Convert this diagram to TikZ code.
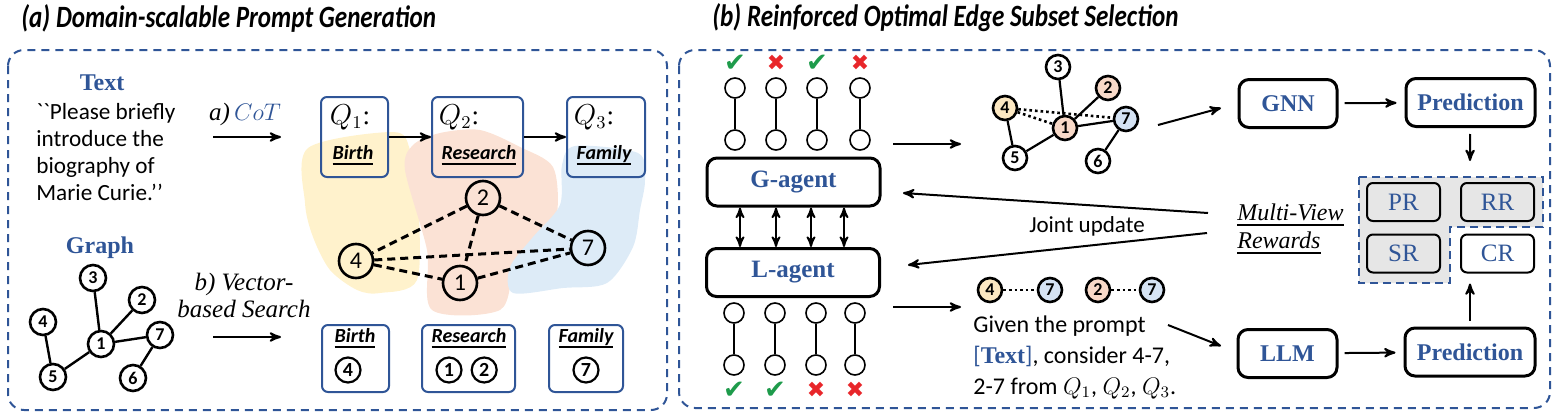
\documentclass[tikz,border=0pt]{standalone}
\usepackage[no-math]{fontspec}
\setmainfont{Liberation Serif}
\newfontfamily\cali{Carlito}
\newfontfamily\dejavu{DejaVu Sans}
\newcommand{\ulw}[1]{\setbox0=\hbox{#1}\rlap{\rule[-2.5pt]{\wd0}{1pt}}\box0}
\usepackage{tikz}
\usetikzlibrary{arrows, positioning}
\definecolor{ublue}{HTML}{2F5597}
\definecolor{okgreen}{HTML}{1E9B4B}
\definecolor{badred}{HTML}{E8262A}
\definecolor{yblob}{HTML}{FFF2CC}
\definecolor{sblob}{HTML}{FBE2D5}
\definecolor{bblob}{HTML}{DDEBF7}
\definecolor{ynode}{HTML}{FCE8C2}
\definecolor{snode}{HTML}{F8D9C8}
\definecolor{bnode}{HTML}{D5E3F4}
\definecolor{rgray}{HTML}{E6E6E6}
\tikzset{
>=stealth', % makes the arrow heads bold
panel/.style={draw=ublue, line width=1pt, dash pattern=on 4pt off 3pt, rounded corners=8pt}, % the two dashed frames
paneltitle/.style={inner sep=0pt, font=\cali\bfseries\itshape\fontsize{15.5}{17}\selectfont},
bluelbl/.style={text=ublue, font=\bfseries\fontsize{12}{14}\selectfont},
bodytxt/.style={inner sep=0pt, align=left, font=\cali\fontsize{11.6}{13.5}\selectfont},
qbox/.style={draw=ublue, line width=1pt, rounded corners=3pt, minimum height=40pt},
qlbl/.style={font=\fontsize{13.5}{14}\selectfont},
topic/.style={inner sep=1pt, font=\cali\bfseries\itshape\fontsize{10}{12}\selectfont},
bignode/.style={circle, draw, line width=1.3pt, inner sep=0pt, minimum size=17pt, font=\cali\fontsize{12}{12}\selectfont},
smallnode/.style={circle, draw, line width=1.3pt, inner sep=0pt, minimum size=13pt, font=\cali\bfseries\fontsize{9}{9}\selectfont},
circdig/.style={circle, draw, line width=1.1pt, inner sep=0pt, minimum size=12.5pt, font=\cali\bfseries\fontsize{10}{10}\selectfont},
endpt/.style={circle, draw, line width=0.8pt, inner sep=0pt, minimum size=10pt},
okmark/.style={text=okgreen, font=\dejavu\fontsize{13}{13}\selectfont},
badmark/.style={text=badred, font=\dejavu\fontsize{11}{11}\selectfont},
agentbox/.style={draw, line width=1.5pt, rounded corners=5pt, minimum width=86.5pt, minimum height=24pt, text=ublue, font=\bfseries\fontsize{12.5}{14}\selectfont},
modbox/.style={draw, line width=1.5pt, rounded corners=5pt, minimum height=24pt, text=ublue, font=\bfseries\fontsize{12}{14}\selectfont},
rbox/.style={draw, line width=1pt, rounded corners=3pt, fill=rgray, minimum width=36.5pt, minimum height=19pt, text=ublue, font=\fontsize{12.5}{14}\selectfont},
arr/.style={->, line width=1pt}, % plain connector arrows
dashline/.style={line width=1.5pt, dash pattern=on 4pt off 2.5pt},
dotline/.style={line width=1.3pt, dash pattern=on 1.3pt off 1.5pt},
}

\begin{document}
\begin{tikzpicture}[x=0.5pt, y=-0.5pt]
  \useasboundingbox (0,0) rectangle (1560,418);

  % frames and titles
  \draw[panel] (8,50) rectangle (667,410);
  \draw[panel] (679,50) rectangle (1550,408);
  \node[paneltitle, anchor=west] (ttla) at (21,18) {\scalebox{0.81}[1]{(a) Domain-scalable Prompt Generation}};
  \node[paneltitle, anchor=west] (ttlb) at (712,18) {\scalebox{0.81}[1]{(b) Reinforced Optimal Edge Subset Selection}};

  % (a) text input
  \node[bluelbl] (txtlbl) at (102,83) {Text};
  \node[bodytxt, anchor=north west] (prompt) at (36,103) {{\char96}{\char96}Please briefly\\introduce the\\biography of\\Marie Curie.{\char"2019}{\char"2019}};
  \node[font=\fontsize{12.5}{14}\selectfont] (cotlbl) at (245,114) {\textit{a)}\,{\color{ublue}$CoT$}};
  \coordinate (cotA) at (213,137);
  \coordinate (cotB) at (281,137);
  \draw[arr] (cotA) -- (cotB);

  % topic blobs
  \fill[yblob] plot[smooth cycle, tension=0.5] coordinates {(308,148) (393,132) (410,150) (418,200) (417,280) (380,293) (357,290) (330,270) (313,237) (305,203)};
  \fill[sblob] plot[smooth cycle, tension=0.5] coordinates {(413,145) (440,133) (480,130) (520,147) (553,167) (557,213) (540,245) (515,265) (500,310) (432,310) (427,250) (405,170)};
  \fill[bblob] plot[smooth cycle, tension=0.5] coordinates {(575,146) (638,153) (645,180) (640,210) (633,247) (607,283) (563,288) (513,293) (510,267) (533,237) (560,205) (562,165)};

  % sub-questions
  \node[qbox, minimum width=33.5pt] (q1) at (354.5,137) {};
  \node[qbox, minimum width=45.5pt] (q2) at (477.5,137) {};
  \node[qbox, minimum width=39pt] (q3) at (606,137) {};
  \node[qlbl] (q1t) at (350,117) {$Q_1$:};
  \node[qlbl] (q2t) at (459,117) {$Q_2$:};
  \node[qlbl] (q3t) at (594,117) {$Q_3$:};
  \node[topic] (q1w) at (353,155) {\ulw{Birth}};
  \node[topic] (q2w) at (479,155) {\ulw{Research}};
  \node[topic] (q3w) at (604,155) {\ulw{Family}};
  \draw[arr] (q1) -- (q2);
  \draw[arr] (q2) -- (q3);

  % retrieved sub-graph
  \node[bignode] (a2) at (483,198) {2};
  \node[bignode] (a4) at (356,261) {4};
  \node[bignode] (a1) at (460,283) {1};
  \node[bignode] (a7) at (588,248) {7};
  \path[dashline]
  (a2) edge (a4)
  (a2) edge (a1)
  (a2) edge (a7)
  (a4) edge (a7)
  (a4) edge (a1)
  (a1) edge (a7);

  % (a) graph input
  \node[bluelbl] (grlbl) at (100,248) {Graph};
  \node[smallnode] (g3) at (93,278) {3};
  \node[smallnode] (g2) at (142,300) {2};
  \node[smallnode] (g4) at (43,322) {4};
  \node[smallnode] (g1) at (101,344) {1};
  \node[smallnode] (g7) at (160,335) {7};
  \node[smallnode] (g5) at (53,377) {5};
  \node[smallnode] (g6) at (133,378) {6};
  \path[line width=1.2pt]
  (g3) edge (g1)
  (g2) edge (g1)
  (g7) edge (g1)
  (g5) edge (g1)
  (g4) edge (g5)
  (g7) edge (g6);
  \node[align=center, font=\itshape\fontsize{12.5}{13.5}\selectfont] (vslbl) at (244,295) {b) Vector-\\based Search};
  \coordinate (vsA) at (213,337);
  \coordinate (vsB) at (281,337);
  \draw[arr] (vsA) -- (vsB);

  % matched nodes per topic
  \node[qbox, minimum width=33.5pt, minimum height=33.5pt] (m1) at (355.5,358.5) {};
  \node[qbox, minimum width=46.5pt, minimum height=33.5pt] (m2) at (468.5,358.5) {};
  \node[qbox, minimum width=37pt, minimum height=33.5pt] (m3) at (586,358.5) {};
  \node[topic] (m1w) at (355,338) {\ulw{Birth}};
  \node[topic] (m2w) at (469,338) {\ulw{Research}};
  \node[topic] (m3w) at (586,338) {\ulw{Family}};
  \node[circdig] (m1a) at (348,370) {4};
  \node[circdig] (m2a) at (449,370) {1};
  \node[circdig, right=4pt of m2a] (m2b) {2};
  \node[circdig] (m3a) at (586,370) {7};

  % (b) edge selections of the G-agent
  \node[okmark] (tc1) at (735,63) {✔};
  \node[badmark] (tc2) at (776,63) {✖};
  \node[okmark] (tc3) at (817,63) {✔};
  \node[badmark] (tc4) at (860,63) {✖};
  \node[endpt] (ta1) at (735,88) {};
  \node[endpt] (tb1) at (735,140) {};
  \node[endpt] (ta2) at (776,88) {};
  \node[endpt] (tb2) at (776,140) {};
  \node[endpt] (ta3) at (817,88) {};
  \node[endpt] (tb3) at (817,140) {};
  \node[endpt] (ta4) at (860,88) {};
  \node[endpt] (tb4) at (860,140) {};
  \path[line width=0.8pt]
  (ta1) edge (tb1)
  (ta2) edge (tb2)
  (ta3) edge (tb3)
  (ta4) edge (tb4);

  % agents
  \node[agentbox] (gagent) at (793.5,182) {G-agent};
  \node[agentbox] (lagent) at (793,272.5) {L-agent};
  \coordinate (c1) at (740,0);
  \coordinate (c2) at (776,0);
  \coordinate (c3) at (811,0);
  \coordinate (c4) at (844,0);
  \draw[<->, line width=0.9pt] (gagent.south -| c1) -- (lagent.north -| c1);
  \draw[<->, line width=0.9pt] (gagent.south -| c2) -- (lagent.north -| c2);
  \draw[<->, line width=0.9pt] (gagent.south -| c3) -- (lagent.north -| c3);
  \draw[<->, line width=0.9pt] (gagent.south -| c4) -- (lagent.north -| c4);

  % edge selections of the L-agent
  \node[endpt] (ba1) at (734,313) {};
  \node[endpt] (bb1) at (734,365) {};
  \node[endpt] (ba2) at (775,313) {};
  \node[endpt] (bb2) at (775,365) {};
  \node[endpt] (ba3) at (816,313) {};
  \node[endpt] (bb3) at (816,365) {};
  \node[endpt] (ba4) at (855,313) {};
  \node[endpt] (bb4) at (855,365) {};
  \path[line width=0.8pt]
  (ba1) edge (bb1)
  (ba2) edge (bb2)
  (ba3) edge (bb3)
  (ba4) edge (bb4);
  \node[okmark] (bc1) at (734,390) {✔};
  \node[okmark] (bc2) at (775,390) {✔};
  \node[badmark] (bc3) at (816,390) {✖};
  \node[badmark] (bc4) at (855,390) {✖};

  % refined graph
  \coordinate (gaA) at (893,144);
  \coordinate (gaB) at (961,144);
  \draw[arr] (gaA) -- (gaB);
  \node[smallnode, minimum size=12pt] (r3) at (1058,67) {3};
  \node[smallnode, minimum size=12pt, fill=snode] (r2) at (1108,88) {2};
  \node[smallnode, minimum size=12pt, fill=ynode] (r4) at (1005,108) {4};
  \node[smallnode, minimum size=12pt, fill=snode] (r1) at (1065,128) {1};
  \node[smallnode, minimum size=12pt, fill=bnode] (r7) at (1126,119) {7};
  \node[smallnode, minimum size=12pt] (r5) at (1015,158) {5};
  \node[smallnode, minimum size=12pt] (r6) at (1098,161) {6};
  \path[line width=1.1pt]
  (r3) edge (r1)
  (r2) edge (r1)
  (r1) edge (r7)
  (r1) edge (r5)
  (r4) edge (r5)
  (r7) edge (r6);
  \path[dotline]
  (r4) edge (r7)
  (r4) edge (r1);
  \coordinate (rgA) at (1158,125);
  \coordinate (rgB) at (1221,108);
  \draw[arr] (rgA) -- (rgB);

  % GNN branch
  \node[modbox, minimum width=49pt] (gnn) at (1288,103.5) {GNN};
  \node[modbox, minimum width=64.5pt] (predg) at (1470.5,102.5) {Prediction};
  \draw[arr, shorten <=3pt, shorten >=4pt] (gnn) -- (predg);
  \coordinate (pgB) at (1470,161);
  \draw[arr, shorten <=3pt] (predg) -- (pgB);

  % rewards
  \fill[rgray] (1359,177) -- (1543,177) -- (1543,227) -- (1450,227) -- (1450,283) -- (1359,283) -- cycle;
  \draw[draw=ublue, line width=1.2pt, dash pattern=on 4pt off 2.5pt] (1359,177) -- (1543,177) -- (1543,227) -- (1450,227) -- (1450,283) -- (1359,283) -- cycle;
  \node[rbox] (pr) at (1403.5,202) {PR};
  \node[rbox] (rr) at (1497.5,202) {RR};
  \node[rbox] (sr) at (1403.5,253.5) {SR};
  \node[rbox, fill=white] (cr) at (1497.5,253.5) {CR};
  \node[anchor=west, align=left, inner sep=0pt, font=\itshape\fontsize{12}{14}\selectfont] (mvlbl) at (1237,229) {\ulw{Multi-View}\\\ulw{Rewards}};

  % joint update
  \coordinate (juA) at (1208,213);
  \coordinate (juB) at (903,193);
  \coordinate (juC) at (1207,233);
  \coordinate (juD) at (908,265);
  \draw[arr] (juA) -- (juB);
  \draw[arr] (juC) -- (juD);
  \node[font=\cali\fontsize{11.5}{13}\selectfont] (julbl) at (1087,226) {Joint update};

  % LLM branch
  \coordinate (laA) at (893,307);
  \coordinate (laB) at (961,307);
  \draw[arr] (laA) -- (laB);
  \node[smallnode, minimum size=12pt, fill=ynode] (p4) at (990,290) {4};
  \node[smallnode, minimum size=12pt, fill=bnode] (p7) at (1050,290) {7};
  \node[smallnode, minimum size=12pt, fill=snode] (p2) at (1098,290) {2};
  \node[smallnode, minimum size=12pt, fill=bnode] (p7b) at (1152,290) {7};
  \path[dotline]
  (p4) edge (p7)
  (p2) edge (p7b);
  \node[bodytxt, anchor=north west, font=\cali\fontsize{12}{15.5}\selectfont] (llmprompt) at (973,315) {Given the prompt\\{\color{ublue}[\textrm{\bfseries Text}]}, consider 4-7,\\2-7 from $Q_1$, $Q_2$, $Q_3$.};
  \coordinate (lpA) at (1168,325);
  \coordinate (lpB) at (1221,346);
  \draw[arr] (lpA) -- (lpB);
  \node[modbox, minimum width=49.5pt] (llm) at (1287.5,353.5) {LLM};
  \node[modbox, minimum width=65pt] (predl) at (1470,352) {Prediction};
  \draw[arr, shorten <=3pt, shorten >=4pt] (llm) -- (predl);
  \draw[arr, shorten <=3pt, shorten >=5pt] (predl.north) -- (predl.north |- cr.south);
\end{tikzpicture}
\end{document}
